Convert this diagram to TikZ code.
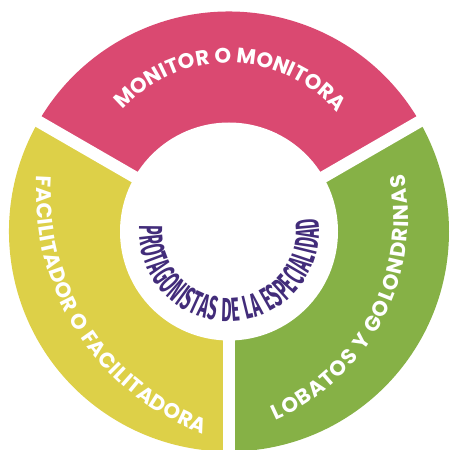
\documentclass[tikz,border=0pt]{standalone}
\usepackage{fontspec}
\usetikzlibrary{decorations.text}
\newfontfamily\labfont{Poppins}
\newfontfamily\midfont{Fira Sans}[FakeStretch=0.47]
\definecolor{segpink}{RGB}{218,73,113}
\definecolor{segyellow}{RGB}{221,208,72}
\definecolor{seggreen}{RGB}{134,177,70}
\definecolor{midpurple}{RGB}{66,44,122}
\begin{document}
\begin{tikzpicture}[
  gapline/.style={white, line width=0.24cm},
  ringlab/.style={decorate, decoration={text along path, text align={fit to path}, text color=white,
    text={|\labfont\bfseries\fontsize{12}{14}\selectfont|#1}}},
  midlab/.style={decorate, decoration={text along path, text align={fit to path}, text color=midpurple,
    text={|\midfont\bfseries\fontsize{19}{21}\selectfont|#1}}}]
\useasboundingbox (0,0) rectangle (9,9);
\coordinate (c) at (4.58,4.37);
\coordinate (ctop) at (4.57,4.868);
\coordinate (cleft) at (5.862,5.136);
\coordinate (cright) at (3.746,4.65);
\fill[segpink] (c) -- ++(30:4.4) arc[start angle=30, end angle=150, radius=4.4] -- cycle;
\fill[segyellow] (c) -- ++(150:4.4) arc[start angle=150, end angle=270, radius=4.4] -- cycle;
\fill[seggreen] (c) -- ++(270:4.4) arc[start angle=270, end angle=390, radius=4.4] -- cycle;
\draw[gapline] (c) -- ++(30:4.6);
\draw[gapline] (c) -- ++(150:4.6);
\draw[gapline] (c) -- ++(270:4.6);
\fill[white] (c) circle (2.18);
\path[ringlab={MONITOR O MONITORA}] ([shift={(137.5:2.872)}]ctop) arc[start angle=137.5, end angle=41.5, radius=2.872];
\path[ringlab={FACILITADOR O FACILITADORA}] ([shift={(176:5.14)}]cleft) arc[start angle=176, end angle=249.5, radius=5.14];
\path[ringlab={LOBATOS Y GOLONDRINAS}] ([shift={(293.6:4.42)}]cright) arc[start angle=293.6, end angle=371.4, radius=4.42];
\path[midlab={PROTAGONISTAS DE LA ESPECIALIDAD}] ([shift={(176.4:1.8)}]c) arc[start angle=176.4, end angle=368.7, radius=1.8];
\end{tikzpicture}
\end{document}
